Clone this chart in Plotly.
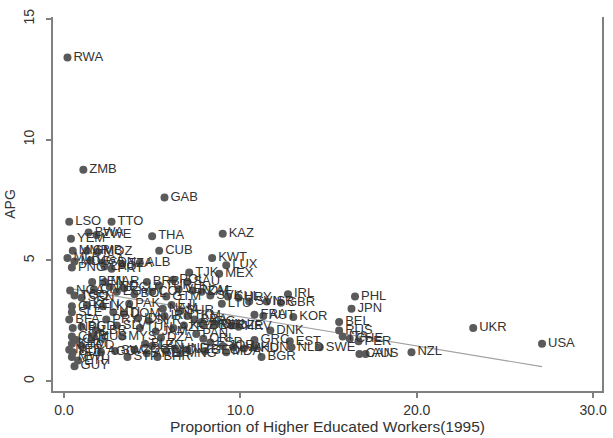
import numpy as np
import plotly.graph_objects as go

countries = ["RWA","ZMB","GAB","LSO","TTO","BWA","ZWE","YEM","THA","CUB","KAZ","KWT","LUX","TJK","MEX","ALB",
 "MMR","GMB","MOZ","MLI","MDG","UGA","SDN","TZA","PNG","LAO","PRT",
 "NGA","TGO","SEN","BEN","CIV","MAR","IND","EGY","ECU","BOL","BRB","COL","TUR","GTM","POL","VEN","SAU","ROM","ZAF","SVK","CHL","LTU","URY",
 "SVN","ISR","GBR","IRL","FRA","AUT","KOR","DNK","GRC","HUN","BGR","EST","NLD","SWE","BEL","RUS","ITA","CHE","PER","PHL","JPN","CAN","AUS","NZL","UKR","USA",
 "IRN","ARG","BRA","CHN","ARM","BLR","CZE","HRV","PAN","CRI","ESP","JOR","LVA","MKD","MDA","GEO","UZB","HND","NIC","MNG",
 "PAK","FJI","GHA","KEN","LKA","SLE","HTI","DOM","IDN","SYR","PRY","SLV","BGD","NPL","BFA","LBR","TUN","JAM","MUS","MYS","CMR","DZA","KHM","NER","BDI","MWI","BLZ","STP","SWZ","ETH","GUY","AGO","TCD","CAF","COG","LBN","ARE","BHR",
 "NAM","SUR","TKM","KGZ","AZE"]

higher_educ = [0.2,1.1,5.7,0.3,2.7,1.4,1.85,0.4,5.0,5.4,9.0,8.4,9.2,7.1,8.8,4.3,
 0.5,1.3,1.9,0.2,0.6,1.5,2.2,3.3,0.45,2.3,2.7,
 0.35,0.6,1.0,1.6,1.7,2.3,2.6,3.0,3.4,4.0,4.7,5.0,5.4,5.8,6.2,6.5,7.0,7.3,7.8,8.3,9.3,8.95,9.9,
 10.5,11.5,12.3,12.7,10.8,11.3,13.0,11.7,10.8,10.8,11.2,12.8,12.9,14.5,15.6,15.6,15.8,16.2,16.7,16.5,16.3,16.75,17.1,19.7,23.2,27.1,
 5.7,7.8,7.4,8.6,7.9,8.5,9.5,9.9,7.5,7.9,8.3,9.0,9.6,10.2,9.2,8.0,7.0,6.3,5.8,6.6,
 3.7,6.1,0.45,1.3,2.2,0.45,2.8,3.4,4.2,4.8,2.4,3.0,1.0,0.5,0.3,1.8,4.3,5.2,1.6,3.3,0.45,5.5,0.45,0.3,0.5,0.45,4.6,3.6,2.9,0.8,0.6,2.1,1.0,0.7,4.0,5.0,4.7,5.3,
 5.6,6.6,7.0,6.8,6.2]

apg = [13.4,8.75,7.6,6.6,6.6,6.15,6.05,5.9,6.0,5.4,6.1,5.1,4.8,4.5,4.45,4.9,
 5.4,5.4,5.35,5.1,4.95,5.0,4.9,4.85,4.7,4.75,4.65,
 3.75,3.55,3.45,4.1,3.8,4.1,3.9,3.7,3.85,3.6,4.1,3.7,3.95,3.5,4.2,3.8,4.1,3.75,3.7,3.55,3.5,3.2,3.45,
 3.3,3.3,3.25,3.6,2.75,2.7,2.65,2.1,1.7,1.4,1.0,1.65,1.4,1.4,2.45,2.1,1.85,1.75,1.65,3.5,3.0,1.12,1.12,1.2,2.2,1.55,
 2.7,2.45,2.55,2.35,2.35,2.3,2.3,2.25,1.95,1.75,1.6,1.45,1.4,1.35,1.2,1.25,1.3,1.35,1.25,1.15,
 3.2,3.15,3.1,3.15,3.1,2.85,2.85,2.8,2.6,2.5,2.55,2.3,2.25,2.2,2.55,2.1,2.2,2.05,1.85,1.85,1.85,1.8,1.55,1.3,1.2,1.0,1.55,1.0,1.25,0.85,0.62,1.2,1.45,1.7,1.3,1.45,1.15,1.0,
 3.0,2.9,2.7,2.3,2.2]

# fitted line
fit_x = [0.2, 27.1]
fit_y = [3.85, 0.6]

x_ticks = [0, 10, 20, 30]
y_ticks = [0, 5, 10, 15]

FONT = "Liberation Sans, Arial, sans-serif"

fig = go.Figure()
fig.add_trace(go.Scatter(
    x=fit_x, y=fit_y, mode="lines", line=dict(color="#a0a0a0", width=1.2),
    showlegend=False, hoverinfo="skip"))
fig.add_trace(go.Scatter(
    x=higher_educ, y=apg, mode="markers+text", text=countries, textposition="middle right",
    marker=dict(size=8, color="#5a5a5a"),
    textfont=dict(family=FONT, size=13, color="#333333"),
    cliponaxis=False, showlegend=False, hoverinfo="skip"))

axis_common = dict(showgrid=False, zeroline=False, showline=True, linecolor="#808080", linewidth=2,
                   ticks="outside", ticklen=5, tickcolor="#808080", tickwidth=1.5,
                   tickfont=dict(family=FONT, size=14, color="#333333"))
fig.update_layout(
    width=613, height=438,
    margin=dict(l=53, r=6, t=17, b=46),
    paper_bgcolor="white", plot_bgcolor="white",
    font=dict(family=FONT, size=13, color="#333333"),
    xaxis=dict(range=[-0.62, 30.5], tickvals=x_ticks, tickformat=".1f", mirror=False,
               title=dict(text="Proportion of Higher Educated Workers(1995)", standoff=3,
                          font=dict(size=15.5, color="#333333")), **axis_common),
    yaxis=dict(range=[-0.41, 15.08], tickvals=y_ticks, tickangle=-90, mirror=True,
               ticklabelstandoff=6,
               title=dict(text="APG", standoff=3, font=dict(size=14, color="#333333")), **axis_common),
)
fig.write_html("out.html")
